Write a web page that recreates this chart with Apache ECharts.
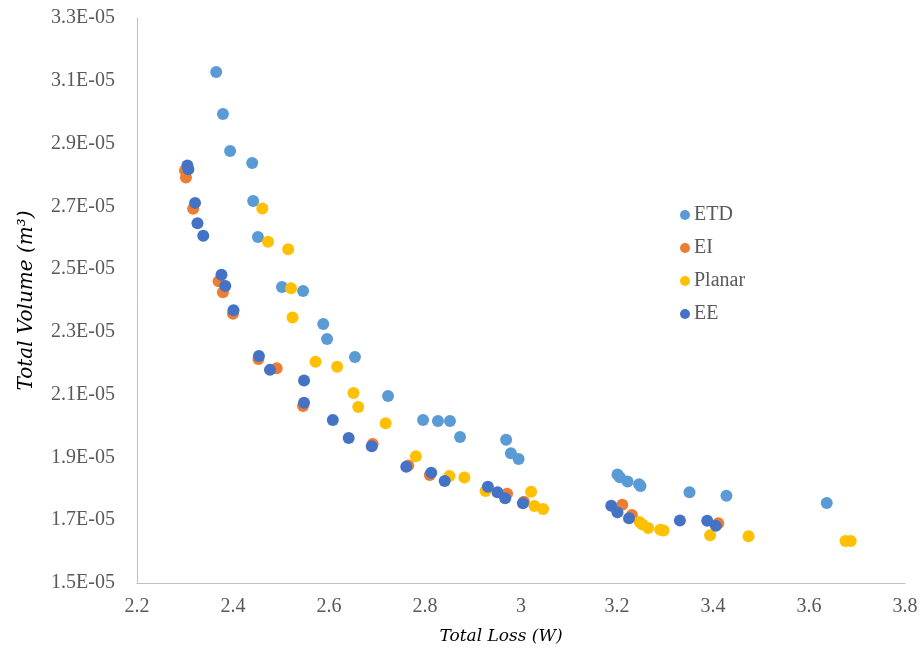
<!DOCTYPE html>
<html>
<head>
<meta charset="utf-8">
<script src="https://cdn.jsdelivr.net/npm/echarts@6/dist/echarts.min.js"></script>
<style>html,body{margin:0;padding:0;background:#fff}#c{width:921px;height:650px}</style>
</head>
<body>
<div id="c"></div>
<script>
// Series names
const seriesNames = ['ETD', 'EI', 'Planar', 'EE'];

// ETD: [Total Loss (W), Total Volume (m^3)]
const etdLoss = [2.365, 2.379, 2.394, 2.440, 2.442, 2.452, 2.502, 2.546, 2.588, 2.596, 2.654, 2.723, 2.796, 2.827, 2.852, 2.873, 2.969, 2.979, 2.995, 3.201, 3.206, 3.222, 3.246, 3.249, 3.351, 3.428, 3.637];
const etdVol  = [3.128e-5, 2.994e-5, 2.876e-5, 2.838e-5, 2.717e-5, 2.602e-5, 2.443e-5, 2.430e-5, 2.325e-5, 2.277e-5, 2.220e-5, 2.096e-5, 2.019e-5, 2.016e-5, 2.016e-5, 1.965e-5, 1.956e-5, 1.913e-5, 1.895e-5, 1.846e-5, 1.837e-5, 1.823e-5, 1.815e-5, 1.809e-5, 1.789e-5, 1.778e-5, 1.755e-5];

// EI
const eiLoss = [2.300, 2.302, 2.317, 2.370, 2.379, 2.400, 2.453, 2.491, 2.546, 2.691, 2.765, 2.810, 2.971, 3.006, 3.211, 3.231, 3.411];
const eiVol  = [2.814e-5, 2.792e-5, 2.692e-5, 2.461e-5, 2.426e-5, 2.358e-5, 2.214e-5, 2.184e-5, 2.064e-5, 1.943e-5, 1.874e-5, 1.844e-5, 1.784e-5, 1.759e-5, 1.749e-5, 1.717e-5, 1.690e-5];

// Planar
const planarLoss = [2.461, 2.473, 2.515, 2.521, 2.524, 2.572, 2.617, 2.651, 2.661, 2.718, 2.781, 2.851, 2.882, 2.926, 3.021, 3.028, 3.046, 3.247, 3.253, 3.265, 3.290, 3.297, 3.394, 3.474, 3.676, 3.687];
const planarVol  = [2.693e-5, 2.587e-5, 2.563e-5, 2.439e-5, 2.346e-5, 2.205e-5, 2.189e-5, 2.105e-5, 2.061e-5, 2.009e-5, 1.904e-5, 1.841e-5, 1.836e-5, 1.793e-5, 1.791e-5, 1.745e-5, 1.736e-5, 1.694e-5, 1.686e-5, 1.675e-5, 1.670e-5, 1.667e-5, 1.652e-5, 1.649e-5, 1.634e-5, 1.634e-5];

// EE
const eeLoss = [2.305, 2.307, 2.321, 2.326, 2.338, 2.376, 2.384, 2.401, 2.454, 2.477, 2.548, 2.548, 2.608, 2.641, 2.689, 2.761, 2.813, 2.841, 2.931, 2.951, 2.967, 3.004, 3.188, 3.201, 3.225, 3.331, 3.388, 3.406];
const eeVol  = [2.830e-5, 2.818e-5, 2.711e-5, 2.646e-5, 2.606e-5, 2.482e-5, 2.446e-5, 2.369e-5, 2.223e-5, 2.179e-5, 2.145e-5, 2.074e-5, 2.019e-5, 1.962e-5, 1.936e-5, 1.870e-5, 1.851e-5, 1.825e-5, 1.807e-5, 1.789e-5, 1.770e-5, 1.754e-5, 1.746e-5, 1.725e-5, 1.706e-5, 1.699e-5, 1.698e-5, 1.682e-5];

// Axis ticks
const xTicks = [2.2, 2.4, 2.6, 2.8, 3.0, 3.2, 3.4, 3.6, 3.8];
const yTicks = [1.5e-5, 1.7e-5, 1.9e-5, 2.1e-5, 2.3e-5, 2.5e-5, 2.7e-5, 2.9e-5, 3.1e-5, 3.3e-5];
const yTickLabels = ['1.5E-05', '1.7E-05', '1.9E-05', '2.1E-05', '2.3E-05', '2.5E-05', '2.7E-05', '2.9E-05', '3.1E-05', '3.3E-05'];

const colors = ['#5B9BD5', '#ED7D31', '#FFC000', '#4472C4'];
const zip = (a, b) => a.map((v, i) => [v, b[i]]);
const dataSets = [zip(etdLoss, etdVol), zip(eiLoss, eiVol), zip(planarLoss, planarVol), zip(eeLoss, eeVol)];

function yLabel(v) {
  let best = 0, bd = Infinity;
  yTicks.forEach((t, i) => { const d = Math.abs(t - v); if (d < bd) { bd = d; best = i; } });
  return yTickLabels[best];
}
function xLabel(v) {
  const r = Math.round(v * 10) / 10;
  return Number.isInteger(r) ? String(r) : r.toFixed(1);
}

const font = '"Liberation Serif", "Times New Roman", serif';
const mathFont = '"DejaVu Serif", serif';
const chart = echarts.init(document.getElementById('c'), null, { renderer: 'canvas' });
chart.setOption({
  animation: false,
  color: colors,
  textStyle: { fontFamily: font },
  grid: { left: 137, right: 16, top: 18, bottom: 67, containLabel: false, outerBoundsMode: 'none' },
  legend: {
    orient: 'vertical',
    left: 675, top: 200,
    itemGap: 13,
    itemWidth: 10, itemHeight: 10,
    icon: 'circle',
    textStyle: { fontFamily: font, fontSize: 20, color: '#595959', padding: [0, 0, 0, -1] },
    data: seriesNames
  },
  xAxis: {
    type: 'value',
    min: xTicks[0], max: xTicks[xTicks.length - 1], interval: 0.2,
    axisLine: { show: true, lineStyle: { color: '#BFBFBF', width: 1 } },
    axisTick: { show: false },
    splitLine: { show: false },
    axisLabel: { color: '#595959', fontSize: 20, fontFamily: font, margin: 14, formatter: xLabel },
    name: 'Total Loss (W)',
    nameLocation: 'middle', nameGap: 45,
    nameTextStyle: { fontFamily: mathFont, fontStyle: 'italic', fontSize: 17, color: '#000', padding: [0, 40, 0, 0] }
  },
  yAxis: {
    type: 'value',
    min: yTicks[0], max: yTicks[yTicks.length - 1], interval: 2e-6,
    axisLine: { show: true, lineStyle: { color: '#BFBFBF', width: 1 } },
    axisTick: { show: false },
    splitLine: { show: false },
    axisLabel: { color: '#595959', fontSize: 20, fontFamily: font, margin: 22, formatter: yLabel },
    name: 'Total Volume (m³)',
    nameLocation: 'middle', nameGap: 100, nameRotate: 90,
    nameTextStyle: { fontFamily: mathFont, fontStyle: 'italic', fontSize: 20, color: '#000' }
  },
  series: seriesNames.map((n, i) => ({
    name: n,
    type: 'scatter',
    symbol: 'circle',
    symbolSize: 12,
    data: dataSets[i],
    itemStyle: { color: colors[i], opacity: 1 }
  }))
});
</script>
</body>
</html>
